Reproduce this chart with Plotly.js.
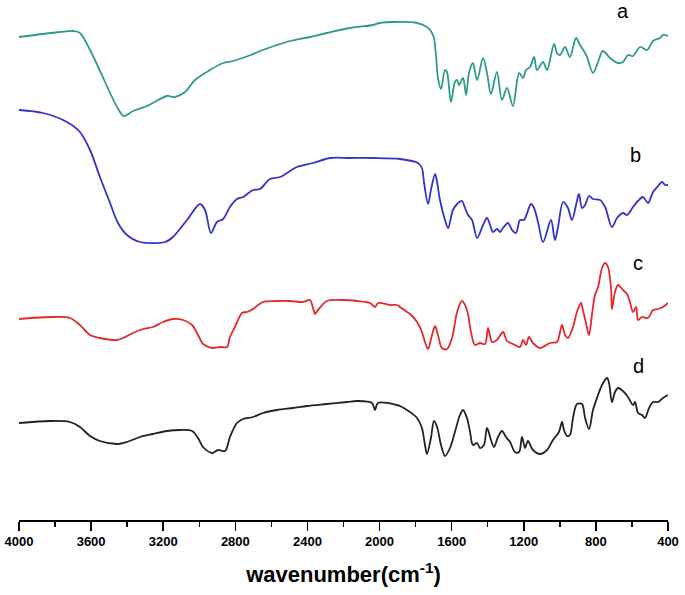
<!DOCTYPE html>
<html>
<head>
<meta charset="utf-8">
<script src="https://cdn.plot.ly/plotly-3.0.1.min.js"></script>
<style>html,body{margin:0;padding:0;background:#fff;}#chart{width:685px;height:595px;}</style>
</head>
<body>
<div id="chart"></div>
<script>
// Spectrum a (teal)
const waveA = [4000,3773,3700,3662,3456,3418,3368,3290,3179,3135,3079,3024,2941,2868,2813,2730,2647,2569,2497,2386,2292,2164,2036,1998,1925,1792,1737,1720,1709,1698,1687,1676,1659,1637,1626,1604,1582,1570,1559,1537,1520,1504,1482,1459,1426,1404,1382,1349,1321,1293,1260,1226,1204,1188,1165,1143,1127,1093,1071,1032,1016,999,971,944,910,888,860,849,816,788,761,722,677,650,622,594,555,516,483,444,428,400];
const tA = [483,488,489,487,413,404,409,414,424,423,428,440,450,457,459,464,470,475,479,483,487,492,495,497,498,497,493,490,487,482,465,442,431,450,448,418,438,440,435,442,425,447,457,440,462,447,426,448,420,432,414,447,442,450,453,463,450,458,450,476,467,465,473,463,482,475,467,463,447,458,469,462,457,458,465,464,473,470,479,482,485,484];

// Spectrum b (blue)
const waveB = [4000,3867,3734,3662,3606,3551,3495,3451,3401,3329,3190,3146,3068,2996,2968,2935,2902,2868,2830,2791,2757,2702,2663,2608,2552,2458,2369,2275,2164,2036,1887,1787,1765,1753,1731,1715,1692,1681,1665,1637,1620,1593,1570,1543,1526,1509,1487,1459,1426,1404,1387,1371,1349,1332,1315,1288,1265,1243,1221,1199,1160,1143,1121,1093,1049,1027,1010,982,955,933,910,894,877,860,838,816,777,749,711,683,650,627,594,567,539,511,483,455,433,416,400];
const tB = [410,407,398,388,370,343,317,297,285,278,278,283,300,316,310,287,298,301,313,321,323,330,331,341,343,353,357,362,362,362,361,357,352,337,316,330,346,338,320,300,292,310,316,319,312,305,300,282,295,302,295,288,291,288,292,297,290,287,300,300,316,312,298,278,300,280,293,318,312,300,315,326,312,315,324,321,320,313,293,302,307,305,313,319,323,317,328,334,338,335,335];

// Spectrum c (red)
const waveC = [4000,3811,3717,3662,3606,3551,3456,3423,3368,3312,3257,3201,3146,3090,3040,3007,2979,2929,2885,2846,2830,2802,2763,2735,2702,2647,2569,2497,2425,2386,2369,2358,2341,2292,2203,2125,2053,2025,2009,1942,1903,1887,1848,1831,1792,1765,1748,1731,1709,1692,1676,1654,1626,1598,1570,1543,1515,1493,1471,1443,1415,1398,1376,1349,1315,1293,1260,1221,1204,1188,1171,1149,1110,1055,1016,999,988,971,955,927,905,883,872,855,838,822,805,788,766,749,733,716,711,694,677,650,627,611,594,577,566,544,511,483,455,428,400];
const tC = [201,203,202,195,185,182,180,182,187,191,193,198,201,200,195,185,176,172,173,173,183,193,207,208,211,218,219,219,218,220,212,206,210,219,220,219,217,213,217,215,215,213,208,206,198,188,178,171,185,194,185,172,171,182,208,219,210,188,175,177,176,192,178,180,188,179,176,173,180,175,183,177,172,177,178,188,195,185,182,193,208,217,210,197,185,205,225,233,252,257,253,232,211,228,235,230,226,218,208,213,200,203,202,210,211,213,217];

// Spectrum d (black)
const waveD = [4000,3828,3717,3662,3606,3551,3456,3401,3329,3257,3179,3107,3040,3007,2979,2929,2896,2857,2830,2791,2757,2702,2647,2569,2480,2402,2292,2181,2125,2042,2025,2009,1903,1887,1831,1792,1765,1748,1737,1715,1698,1681,1659,1637,1609,1582,1554,1537,1515,1498,1482,1459,1443,1421,1404,1382,1365,1343,1321,1299,1276,1249,1226,1210,1193,1177,1149,1110,1071,1038,1005,988,977,960,944,927,905,877,860,838,816,794,766,738,727,711,694,677,650,622,594,583,566,544,528,505,483,455,428,400];
const tD = [97,99,98,93,84,79,76,78,83,86,89,90,89,82,73,67,70,69,83,97,101,103,107,110,112,114,116,118,119,117,110,117,115,114,108,102,92,75,66,82,99,93,75,64,72,88,105,110,102,88,75,77,72,75,92,80,73,83,89,83,78,68,68,83,72,79,70,66,70,80,88,98,90,84,85,102,116,116,102,91,110,122,135,142,137,118,128,132,129,123,115,118,107,105,102,112,118,118,122,125];

const seriesLabels = ['a','b','c','d'];
const labelWave = [649,583,566,561];
const labelT = [509,365,257,154];

const colors = ['#2e9a8c','#3333cc','#e4282c','#222222'];
const waves = [waveA, waveB, waveC, waveD];
const vals = [tA, tB, tC, tD];

const traces = waves.map((w, i) => ({
  x: w, y: vals[i], type: 'scatter', mode: 'lines',
  line: {color: colors[i], width: 1.8, shape: 'spline', smoothing: 0.9},
  hoverinfo: 'skip', showlegend: false
}));

const annotations = seriesLabels.map((s, i) => ({
  x: labelWave[i], y: labelT[i], xref: 'x', yref: 'y', text: s, showarrow: false,
  font: {family: 'Liberation Sans, Arial, sans-serif', size: 20, color: '#000'}
}));

const layout = {
  width: 685, height: 595,
  margin: {l: 19, r: 17, t: 0, b: 75},
  paper_bgcolor: '#fff', plot_bgcolor: '#fff',
  showlegend: false,
  xaxis: {
    range: [4000, 400], autorange: false,
    tickmode: 'linear', tick0: 400, dtick: 400,
    ticks: 'outside', ticklen: 9, tickwidth: 1.5, tickcolor: '#000',
    minor: {dtick: 200, ticks: 'outside', ticklen: 5, tickwidth: 1.5, tickcolor: '#000'},
    showline: true, linecolor: '#000', linewidth: 1.5,
    showgrid: false, zeroline: false,
    tickfont: {family: 'Liberation Sans, Arial, sans-serif', size: 13, color: '#000', weight: 'bold'},
    title: {text: 'wavenumber(cm<sup>-1</sup>)', standoff: 18,
      font: {family: 'Liberation Sans, Arial, sans-serif', size: 22, color: '#000', weight: 'bold'}}
  },
  yaxis: {range: [0, 520], autorange: false, visible: false, showgrid: false, zeroline: false},
  annotations: annotations
};

Plotly.newPlot('chart', traces, layout, {displayModeBar: false, staticPlot: true});
</script>
</body>
</html>
